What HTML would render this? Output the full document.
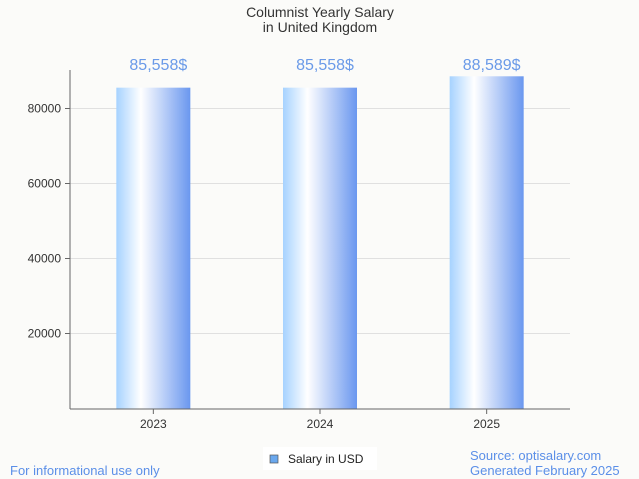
<!DOCTYPE html>
<html><head><meta charset="utf-8"><style>
body{margin:0;background:#fbfbf9;font-family:"Liberation Sans",sans-serif;}
svg{display:block}
</style></head><body>
<svg id="chart" width="639" height="479">
<defs><linearGradient id="g" x1="0" x2="1" y1="0" y2="0">
<stop offset="0" stop-color="#a6d2ff"/><stop offset="0.33" stop-color="#ffffff"/><stop offset="1" stop-color="#6a97ef"/>
</linearGradient></defs>
<rect width="639" height="479" fill="#fbfbf9"/>
<text x="320" y="17" text-anchor="middle" font-size="14" fill="#333">Columnist Yearly Salary</text>
<text x="320" y="32" text-anchor="middle" font-size="14" fill="#333">in United Kingdom</text>
<g id="grid"></g>
<g id="bars"></g>
<line x1="70" y1="70" x2="70" y2="409" stroke="#666"/>
<line x1="70" y1="409" x2="570" y2="409" stroke="#666"/>
<g>
<rect x="263" y="447" width="114" height="23" fill="#fff"/>
<rect x="270" y="455" width="8" height="8" fill="#6aa8ee" stroke="#555" stroke-width="0.7"/>
<text x="288" y="463" font-size="12" fill="#222">Salary in USD</text>
</g>
<text x="10" y="475" font-size="13" fill="#5b8fe8">For informational use only</text>
<text x="470" y="460" font-size="13" fill="#5b8fe8">Source: optisalary.com</text>
<text x="470" y="475" font-size="13" fill="#5b8fe8">Generated February 2025</text>
</svg>
<script>
const categories=["2023","2024","2025"];
const values=[85558,85558,88589];
const labels=["85,558$","85,558$","88,589$"];
const ticks=[20000,40000,60000,80000];
const ns="http://www.w3.org/2000/svg";
const x0=70,x1=570,yb=408.5,ppu=75/20000;
const y=v=>yb-v*ppu;
const bw=(x1-x0)/categories.length;
const xc=i=>x0+bw*(i+0.5);
const grid=document.getElementById('grid'),bars=document.getElementById('bars');
function mk(t,a,p){const e=document.createElementNS(ns,t);for(const k in a)e.setAttribute(k,a[k]);p.appendChild(e);return e;}
ticks.forEach(t=>{
 const l=mk('line',{x1:x0,x2:x1,y1:y(t),y2:y(t),stroke:'#e0e0e0'},grid);
 
 
 const tk=mk('line',{x1:x0-5,x2:x0,y1:y(t),y2:y(t),stroke:'#666'},grid);
 
 
 const tx=mk('text',{x:x0-9,y:y(t)+4,'text-anchor':'end','font-size':12,fill:'#333'},grid);
 tx.textContent=t;
 
 
});
categories.forEach((c,i)=>{
 const r=mk('rect',{x:xc(i)-37,y:y(values[i]),width:74,height:yb-y(values[i]),fill:'url(#g)'},bars);
 
 
 const v=mk('text',{x:xc(i)+5,y:70,'text-anchor':'middle','font-size':16,fill:'#6a9ae8'},bars);
 v.textContent=labels[i];
 
 
 const tk=mk('line',{x1:xc(i),x2:xc(i),y1:409,y2:414,stroke:'#666'},bars);
 
 
 const t=mk('text',{x:xc(i),y:428,'text-anchor':'middle','font-size':12,fill:'#333'},bars);
 t.textContent=c;
 
 
});
</script>
</body></html>
